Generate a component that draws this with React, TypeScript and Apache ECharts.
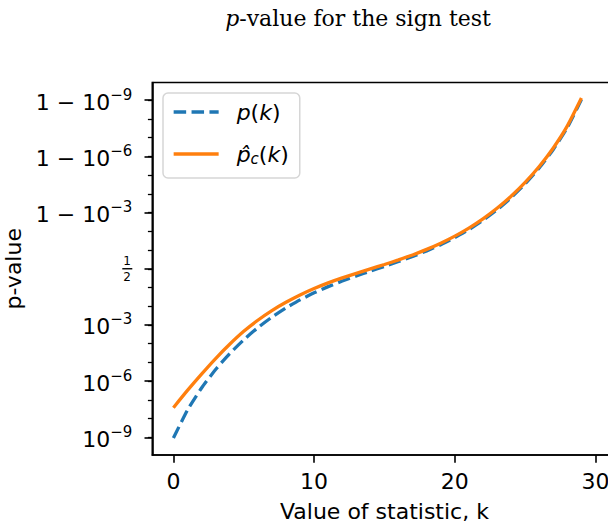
import React, { useEffect, useRef } from 'react';
import * as echarts from 'echarts';

// k = value of the statistic
const kValues = [0, 1, 2, 3, 4, 5, 6, 7, 8, 9, 10, 11, 12, 13, 14, 15, 16, 17, 18, 19, 20, 21, 22, 23, 24, 25, 26, 27, 28, 29];

// p(k) (dashed blue)
const pExact = [
  9.3132e-10, 2.8871e-8, 4.33996e-7, 4.21517e-6, 2.97381e-5, 1.62457e-4, 7.15453e-4, 2.61144e-3,
  8.0624e-3, 0.021387, 0.0493686, 0.1002443, 0.1807969, 0.2923324, 0.4277678, 0.5722322,
  0.7076676, 0.8192031, 0.8997557, 0.9506314, 0.978613, 0.9919376, 0.9973886, 0.99928455,
  0.99983754, 0.99997026, 0.999995785, 0.999999566, 0.9999999711, 0.99999999907,
];

// p̂_c(k) (solid orange)
const pCorrected = [
  3.89e-8, 3.236e-7, 2.399e-6, 1.622e-5, 9.332e-5, 4.569e-4, 1.796e-3, 5.854e-3,
  0.015959, 0.038286, 0.080971, 0.150096, 0.246183, 0.363124, 0.496545, 0.627237,
  0.74865, 0.844842, 0.915183, 0.958633, 0.982128, 0.993276, 0.997827, 0.9994047,
  0.99986481, 0.99997528, 0.9999964925, 0.9999996386, 0.99999997601, 0.99999999921,
];

const seriesNames = ['p(k)', 'p̂c(k)'];
const xTicks = [0, 10, 20, 30];
// y ticks in log-odds (base 10) positions, and their labels
const yTickLogit = [-9, -6, -3, 0, 3, 6, 9];
const yTickLabels = [
  '{b|10}{s|−9}',
  '{b|10}{s|−6}',
  '{b|10}{s|−3}',
  '{f|1}\n{f|2}',
  '{b|1 − 10}{s|−3}',
  '{b|1 − 10}{s|−6}',
  '{b|1 − 10}{s|−9}',
];
const yMinorTicks = [-9, -8, -7, -6, -5, -4, -3, -2, -1, 0, 1, 2, 3, 4, 5, 6, 7, 8, 9];

const logit = (p: number) => Math.log10(p / (1 - p));

export default function App() {
  const ref = useRef<HTMLDivElement>(null);
  useEffect(() => {
    if (!ref.current) return;
    const chart = echarts.init(ref.current, undefined, { renderer: 'svg' });
    const font = 'DejaVu Sans';
    const black = '#000';
    const gridLeft = 152.3;
    const labelMargin = 20;
    const option: any = {
      animation: false,
      backgroundColor: '#fff',
      textStyle: { fontFamily: font, color: black },
      grid: {
        left: gridLeft,
        top: 82.5,
        width: 464.3,
        height: 372.5,
        show: true,
        borderColor: black,
        borderWidth: 1.6,
        backgroundColor: 'transparent',
        containLabel: false,
        outerBoundsMode: 'none',
      },
      xAxis: {
        type: 'value',
        min: -1.5,
        max: 31.5,
        axisLine: { show: true, onZero: false, lineStyle: { color: black, width: 1.6 } },
        axisTick: { show: true, customValues: xTicks, length: 7.8, lineStyle: { color: black, width: 1.6 } },
        axisLabel: { customValues: xTicks, fontSize: 22, color: black, margin: 15, fontFamily: font },
        splitLine: { show: false },
        name: 'Value of statistic, k',
        nameLocation: 'middle',
        nameGap: 45,
        nameTextStyle: { fontSize: 22, color: black, fontFamily: font },
      },
      yAxis: [
        {
          type: 'value',
          min: -9.934,
          max: 9.934,
          position: 'left',
          axisLine: { show: true, onZero: false, lineStyle: { color: black, width: 1.6 } },
          axisTick: { show: true, customValues: yTickLogit, length: 7.8, lineStyle: { color: black, width: 1.6 } },
          axisLabel: {
            customValues: yTickLogit,
            margin: labelMargin,
            color: black,
            formatter: (v: number) => {
              const i = yTickLogit.indexOf(Math.round(v));
              return i >= 0 ? yTickLabels[i] : '';
            },
            rich: {
              b: { fontSize: 22, fontFamily: font, color: black, lineHeight: 26, verticalAlign: 'bottom' },
              s: { fontSize: 15, fontFamily: font, color: black, lineHeight: 15, verticalAlign: 'top' },
              f: { fontSize: 12, fontFamily: font, color: black, lineHeight: 16, padding: [0, 1.5, 0, 0] },
            },
          },
          splitLine: { show: false },
          name: 'p-value',
          nameLocation: 'middle',
          nameRotate: 90,
          nameGap: 124,
          nameTextStyle: { fontSize: 22, color: black, fontFamily: font },
        },
        {
          type: 'value',
          min: -9.934,
          max: 9.934,
          position: 'left',
          axisLine: { show: false, onZero: false },
          axisTick: { show: true, customValues: yMinorTicks, length: 4.4, lineStyle: { color: black, width: 1.3 } },
          axisLabel: { show: false },
          splitLine: { show: false },
        },
      ],
      legend: {
        orient: 'vertical',
        left: 163,
        top: 93,
        padding: [5, 11, 10, 9],
        itemGap: 14,
        itemWidth: 45,
        itemHeight: 14,
        backgroundColor: 'rgba(255,255,255,0.8)',
        borderColor: '#d6d6d6',
        borderWidth: 1.5,
        borderRadius: 5,
        itemStyle: { opacity: 0 },
        lineStyle: { width: 3.3 },
        data: seriesNames,
        formatter: (name: string) =>
          name === seriesNames[0]
            ? '{i0|p}{r|(}{i|k}{r|)}'
            : '{i0|p̂}{sub|c}{r|(}{i|k}{r|)}',
        textStyle: {
          fontFamily: font,
          fontSize: 22,
          color: black,
          lineHeight: 28,
          rich: {
            i0: { fontSize: 22, fontStyle: 'italic', fontFamily: font, color: black, lineHeight: 28, padding: [0, 0, 0, 13] },
            i: { fontSize: 22, fontStyle: 'italic', fontFamily: font, color: black, lineHeight: 28 },
            r: { fontSize: 22, fontFamily: font, color: black, lineHeight: 28 },
            sub: { fontSize: 15, fontStyle: 'italic', fontFamily: font, color: black, lineHeight: 15, verticalAlign: 'bottom', padding: [0, 0, 2, 0] },
          },
        },
      },
      series: [
        {
          name: seriesNames[0],
          type: 'line',
          data: kValues.map((k, i) => [k, logit(pExact[i])]),
          symbol: 'none',
          smooth: 0.2,
          lineStyle: { color: '#1f77b4', width: 3.3, type: [12.5, 5.4], cap: 'butt' },
          itemStyle: { color: '#1f77b4' },
          z: 2,
        },
        {
          name: seriesNames[1],
          type: 'line',
          data: kValues.map((k, i) => [k, logit(pCorrected[i])]),
          symbol: 'none',
          smooth: 0.2,
          lineStyle: { color: '#ff7f0e', width: 3.3 },
          itemStyle: { color: '#ff7f0e' },
          z: 3,
        },
      ],
      graphic: [
        {
          id: 'title',
          type: 'text',
          x: 358,
          y: 18,
          style: {
            text: '{i|p}{r|-value for the sign test}',
            align: 'center',
            verticalAlign: 'middle',
            rich: {
              i: { fontSize: 22, fontStyle: 'italic', fontFamily: 'DejaVu Serif', fill: black },
              r: { fontSize: 22, fontFamily: 'DejaVu Serif', fill: black },
            },
          },
        },
      ],
    };
    chart.setOption(option);
    // fraction bar of the "1/2" tick label, placed at the tick's own pixel position
    const yHalf = chart.convertToPixel({ yAxisIndex: 0 }, 0) as number;
    const barRight = gridLeft - labelMargin;
    chart.setOption({
      graphic: [
        {
          id: 'fracbar',
          type: 'line',
          z: 100,
          shape: { x1: barRight - 10, y1: yHalf, x2: barRight, y2: yHalf },
          style: { stroke: black, lineWidth: 1.4 },
        },
      ],
    });
    return () => chart.dispose();
  }, []);
  return (
    <div
      ref={ref}
      style={{ position: 'absolute', left: 0, top: 0, width: 608, height: 530, overflow: 'hidden' }}
    />
  );
}
